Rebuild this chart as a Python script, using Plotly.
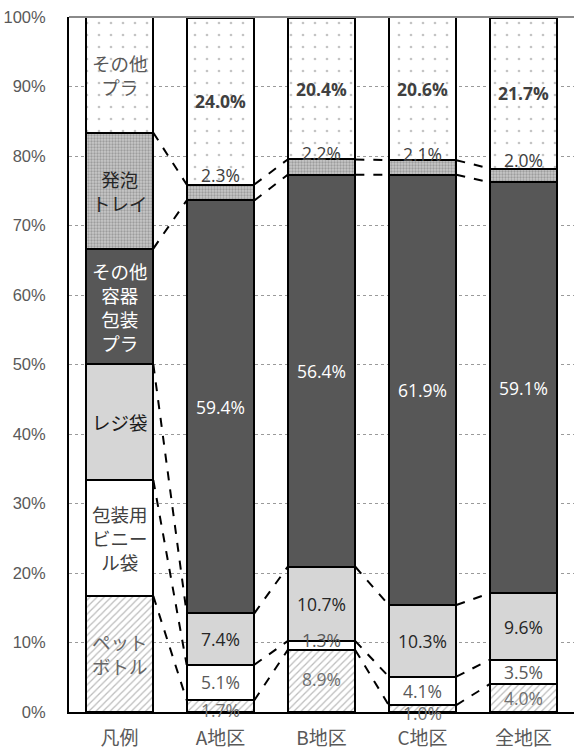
import plotly.graph_objects as go

# Categories along the x axis (first column is the in-chart legend)
categories = ["凡例", "A地区", "B地区", "C地区", "全地区"]

# Series names, bottom to top
series_names = ["ペットボトル", "包装用ビニール袋", "レジ袋",
                "その他容器包装プラ", "発泡トレイ", "その他プラ"]

# Labels written inside the legend column
legend_labels = ["ペット<br>ボトル", "包装用<br>ビニー<br>ル袋", "レジ袋",
                 "その他<br>容器<br>包装<br>プラ", "発泡<br>トレイ", "その他<br>プラ"]

# Shares (%) per category; legend column is split evenly
pet_bottle = [16.67, 1.7, 8.9, 1.0, 4.0]
vinyl_bag = [16.67, 5.1, 1.3, 4.1, 3.5]
shopping_bag = [16.67, 7.4, 10.7, 10.3, 9.6]
other_container = [16.67, 59.4, 56.4, 61.9, 59.1]
foam_tray = [16.67, 2.3, 2.2, 2.1, 2.0]
other_plastic = [16.67, 24.0, 20.4, 20.6, 21.7]

series_values = [pet_bottle, vinyl_bag, shopping_bag,
                 other_container, foam_tray, other_plastic]

y_ticks = [0, 10, 20, 30, 40, 50, 60, 70, 80, 90, 100]

# Styles
markers = [
    dict(color="white", pattern=dict(shape="/", fgcolor="#7a7a7a", bgcolor="white",
                                     size=5, solidity=0.25)),
    dict(color="white"),
    dict(color="#d6d6d6"),
    dict(color="#575757"),
    dict(color="#b4b4b4", pattern=dict(shape=".", fgcolor="#707070", bgcolor="#c8c8c8",
                                       size=3, solidity=0.45)),
    dict(color="white", pattern=dict(shape=".", fgcolor="#8a8a8a", bgcolor="white",
                                     size=12, solidity=0.04)),
]
legend_text_colors = ["#666666", "#404040", "#1a1a1a", "#ffffff", "#262626", "#595959"]
value_text_colors = ["#707070", "#595959", "#262626", "#ffffff", "#404040", "#404040"]
value_bold = [False, False, False, False, False, True]
# vertical nudges (px) for labels of thin segments
value_yshift = [
    [0, -4, 2, -4, 0],
    [0, 0, 6, 0, 0],
    [0, 0, 0, 0, 0],
    [0, 0, 0, 0, 0],
    [0, 17, 14, 13, 15],
    [0, 0, 0, 0, 0],
]

BAR_W = 0.67
xs = list(range(len(categories)))

fig = go.Figure()

for name, vals, mk in zip(series_names, series_values, markers):
    m = dict(mk)
    m["line"] = dict(color="black", width=2)
    fig.add_trace(go.Bar(x=xs, y=vals, name=name, width=BAR_W, marker=m,
                         showlegend=False, hoverinfo="skip"))

# cumulative tops of each series
cum = []
running = [0.0] * len(categories)
for vals in series_values:
    running = [r + v for r, v in zip(running, vals)]
    cum.append(list(running))

# dashed series lines between neighbouring bars
for k in range(len(series_values) - 1):
    lx, ly = [], []
    for i in range(len(categories) - 1):
        lx += [i + BAR_W / 2, i + 1 - BAR_W / 2, None]
        ly += [cum[k][i], cum[k][i + 1], None]
    fig.add_trace(go.Scatter(x=lx, y=ly, mode="lines", showlegend=False,
                             hoverinfo="skip",
                             line=dict(color="black", width=2, dash="dash")))

annotations = []
for k, vals in enumerate(series_values):
    for i, v in enumerate(vals):
        mid = cum[k][i] - v / 2
        if i == 0:
            annotations.append(dict(
                x=i, y=mid, text=legend_labels[k], showarrow=False,
                font=dict(family="Noto Sans CJK JP", size=18.5,
                          color=legend_text_colors[k])))
        else:
            txt = f"{v:.1f}%"
            if value_bold[k]:
                txt = f"<b>{txt}</b>"
            annotations.append(dict(
                x=i, y=mid, text=txt, showarrow=False, yshift=value_yshift[k][i],
                font=dict(family="Open Sans", size=17.5,
                          color=value_text_colors[k])))

fig.update_layout(
    width=574, height=752,
    margin=dict(l=69, r=0, t=17, b=40),
    barmode="stack",
    plot_bgcolor="white", paper_bgcolor="white",
    annotations=annotations,
    shapes=[dict(type="line", xref="paper", yref="paper", x0=0, x1=1, y0=1, y1=1,
                 line=dict(color="#8a8a8a", width=2), layer="above")],
    xaxis=dict(range=[-0.5, 4.5], tickmode="array", tickvals=xs, ticktext=categories,
               showline=True, linecolor="black", linewidth=2, showgrid=False,
               zeroline=False, ticks="", ticklabelstandoff=8,
               tickfont=dict(family="Noto Sans CJK JP", size=19, color="#595959")),
    yaxis=dict(range=[0, 100], tickmode="array", tickvals=y_ticks,
               ticktext=[f"{t}%" for t in y_ticks],
               showline=True, linecolor="black", linewidth=2,
               showgrid=True, gridcolor="#9a9a9a", griddash="dot", gridwidth=1,
               zeroline=False, ticks="", ticklabelstandoff=18,
               tickfont=dict(family="Liberation Sans", size=16.5, color="#595959")),
)

fig.write_html("out.html")
